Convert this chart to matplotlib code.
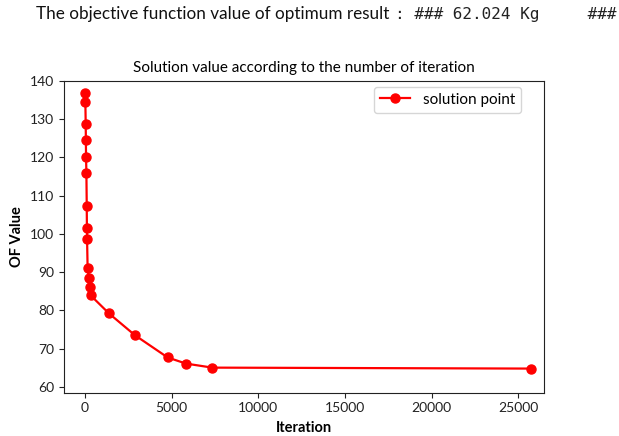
import matplotlib
matplotlib.use("Agg")
import matplotlib.pyplot as plt

# iteration number and objective function value of each solution point
iterations = [10, 20, 40, 50, 60, 80, 100, 110, 120, 150, 220, 280, 330,
              1385, 2885, 4770, 5830, 7345, 25735]
of_values = [136.9, 134.4, 128.8, 124.6, 120.1, 116.0, 107.3, 101.4, 98.6,
             91.1, 88.5, 86.2, 83.9, 79.2, 73.5, 67.7, 66.1, 65.05, 64.8]

x_ticks = [0, 5000, 10000, 15000, 20000, 25000]
y_ticks = [60, 70, 80, 90, 100, 110, 120, 130, 140]

plt.rcParams['font.family'] = ['Lato', 'DejaVu Sans']

W, H = 619, 436
fig = plt.figure(figsize=(W / 100, H / 100), dpi=100)
ax = fig.add_axes([64 / W, 1 - 392.7 / H, (544 - 64) / W, (392.7 - 80.7) / H])

ax.plot(iterations, of_values, color='red', marker='o', markersize=6.5,
        linewidth=1.6, label='solution point')

ax.set_xlim(-1212, 26483)
ax.set_ylim(58.5, 140)
ax.set_xticks(x_ticks)
ax.set_yticks(y_ticks)
ax.tick_params(labelsize=10, colors='#222222')
for s in ax.spines.values():
    s.set_color('#222222')

ax.set_title('Solution value according to the number of iteration', fontsize=11, pad=6)
ax.set_xlabel('Iteration', fontsize=10.5, fontweight='bold', labelpad=5)
ax.set_ylabel('OF Value', fontsize=10.5, fontweight='bold', labelpad=4)
ax.legend(loc='upper right', fontsize=11, borderaxespad=0,
          bbox_to_anchor=(521 / W, 1 - 86.7 / H), bbox_transform=fig.transFigure)

# printed result line above the chart
fig.text(36 / W, 1 - 14 / H, 'The objective function value of optimum result',
         fontsize=12.3, va='center', ha='left', color='#111111')
fig.text(395 / W, 1 - 14 / H, ': ### 62.024 Kg     ###', family='DejaVu Sans Mono',
         fontsize=11.5, va='center', ha='left', color='#222222')

fig.savefig('out.png', dpi=100, facecolor='white')
